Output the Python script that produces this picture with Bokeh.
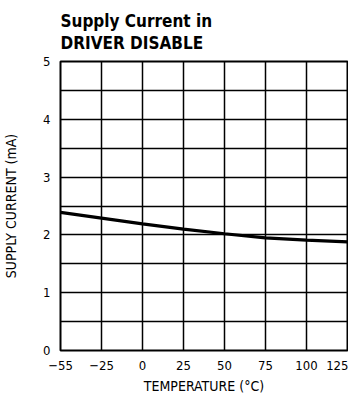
from bokeh.plotting import figure
from bokeh.models import FixedTicker, Title, Range1d
from bokeh.embed import file_html
from bokeh.resources import INLINE
import numpy as np

# Data
temp_ticks = [-55, -25, 0, 25, 50, 75, 100, 125]
temp_labels = ["\u221255", "\u221225", "0", "25", "50", "75", "100", "125"]
temperature = [-55, -25, 0, 25, 50, 75, 100, 125]
supply_current = [2.39, 2.29, 2.19, 2.10, 2.02, 1.95, 1.91, 1.88]
y_ticks = [0, 1, 2, 3, 4, 5]
y_minor = [0.5, 1.5, 2.5, 3.5, 4.5]
title_lines = ["Supply Current in", "DRIVER DISABLE"]

FONT = "DejaVu Sans Condensed"

# x axis is evenly spaced between tick temperatures
tick_pos = list(range(len(temp_ticks)))
x_pos = np.interp(temperature, temp_ticks, tick_pos)

p = figure(frame_width=287, frame_height=289, output_backend="svg", toolbar_location=None,
           x_range=Range1d(0, len(temp_ticks) - 1), y_range=Range1d(0, 5),
           min_border_left=52, min_border_right=1, min_border_top=0, min_border_bottom=0)

p.line(x_pos, supply_current, line_color="black", line_width=3.2)

p.add_layout(Title(text="\n".join(title_lines), text_font=FONT, text_font_size="17px",
                   text_font_style="bold", text_color="black", text_line_height=1.12,
                   align="left", offset=0, standoff=17), "above")

p.xaxis.ticker = FixedTicker(ticks=tick_pos)
p.xaxis.major_label_overrides = {i: l for i, l in zip(tick_pos, temp_labels)}
p.yaxis.ticker = FixedTicker(ticks=y_ticks, minor_ticks=y_minor)

for ax in (p.xaxis[0], p.yaxis[0]):
    ax.axis_line_color = None
    ax.major_tick_line_color = None
    ax.minor_tick_line_color = None
    ax.major_tick_out = 0
    ax.minor_tick_out = 0
    ax.major_label_text_font = FONT
    ax.major_label_text_font_size = "13px"
    ax.major_label_text_color = "black"
    ax.axis_label_text_font = FONT
    ax.axis_label_text_font_size = "14px"
    ax.axis_label_text_font_style = "normal"
    ax.axis_label_text_color = "black"

p.xaxis.axis_label = "TEMPERATURE (\u00b0C)"
p.yaxis.axis_label = "SUPPLY CURRENT (mA)"
p.xaxis.major_label_standoff = 10
p.xaxis.axis_label_standoff = 5
p.yaxis.major_label_standoff = 10
p.yaxis.axis_label_standoff = 21

p.xgrid.grid_line_color = "black"
p.xgrid.grid_line_width = 1.5
p.ygrid.grid_line_color = "black"
p.ygrid.grid_line_width = 1.5
p.ygrid.minor_grid_line_color = "black"
p.ygrid.minor_grid_line_width = 1.5

p.outline_line_color = "black"
p.outline_line_width = 2
p.background_fill_color = "white"
p.border_fill_color = "white"

open("out.html", "w").write(file_html(p, INLINE))
